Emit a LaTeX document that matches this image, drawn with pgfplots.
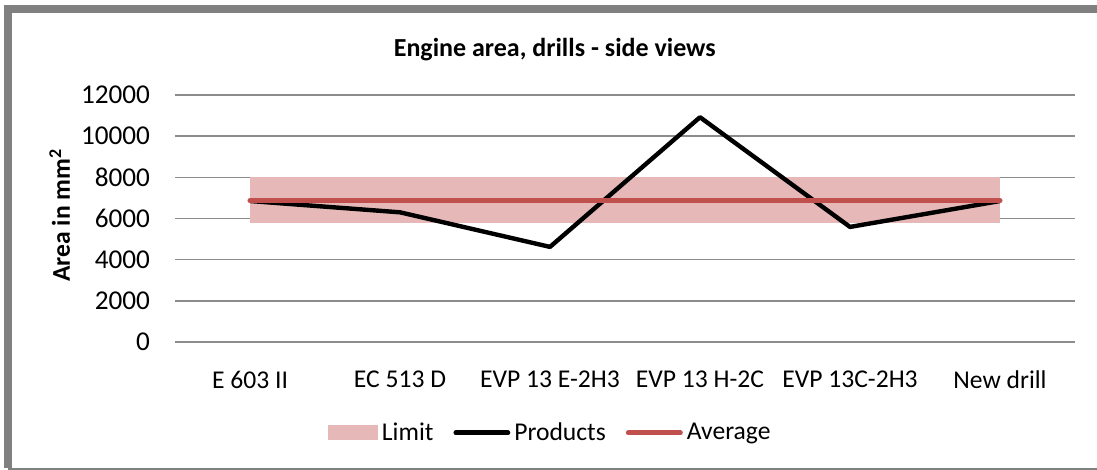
\documentclass[border=0pt]{standalone}
\usepackage{fontspec}
\setmainfont{Carlito}
\usepackage{pgfplots}
\pgfplotsset{compat=1.18}
\definecolor{gridgray}{HTML}{8C8C8C}
\definecolor{framegray}{HTML}{808080}
\definecolor{avgred}{HTML}{C0504D}
\definecolor{limitpink}{HTML}{E6B9B8}
\begin{document}
\begin{tikzpicture}
\useasboundingbox (-87.5pt,-64pt) rectangle (461pt,171pt);
\fill[white] (-87.5pt,-64pt) rectangle (461pt,171pt);
\draw[framegray, line width=4pt] (-83.5pt,-63pt) -- (-83.5pt,166.5pt) -- (475pt,166.5pt);
\draw[framegray, line width=1.2pt] (-83.5pt,-63.5pt) -- (475pt,-63.5pt);
\begin{axis}[
  at={(0,0)}, anchor=south west,
  scale only axis, width=450pt, height=123.5pt,
  xmin=-0.5, xmax=5.5, ymin=0, ymax=12000,
  xtick={0,...,5},
  xticklabels={E 603 II, EC 513 D, EVP 13 E-2H3, EVP 13 H-2C, EVP 13C-2H3, New drill},
  ytick={0,2000,...,12000},
  scaled y ticks=false,
  axis line style={draw=none},
  major tick length=0pt,
  ymajorgrids, grid style={gridgray, line width=0.8pt},
  tick label style={font=\fontsize{12.8}{14}\selectfont},
  xticklabel style={yshift=-11pt},
  yticklabel style={xshift=-9pt, font=\fontsize{13.6}{15}\selectfont},
  /pgf/number format/assume math mode=true,
  /pgf/number format/1000 sep={},
  title={Engine area, drills - side views},
  title style={font=\bfseries\fontsize{13}{15}\selectfont, at={(0.422,1.137)}, anchor=center},
  ylabel={Area in mm\textsuperscript{2}},
  ylabel style={font=\bfseries\fontsize{12.8}{14}\selectfont, at={(-0.128,0.514)}, anchor=center},
  legend style={at={(0.418,-0.368)}, anchor=center, draw=none, fill=none,
    legend columns=-1, font=\fontsize{12.8}{14}\selectfont,
    /tikz/every even column/.append style={column sep=8pt}},
]
\addplot[fill=limitpink, draw=none,
  legend image code/.code={\fill[limitpink] (0pt,-3.7pt) rectangle (25pt,3.7pt);}]
  coordinates {(0,5800) (5,5800) (5,8000) (0,8000)};
\addlegendentry{Limit}
\addplot[black, line width=2.2pt, line join=round,
  legend image code/.code={\draw[black, line width=2.4pt, line cap=round] (0pt,0pt) -- (26pt,0pt);}]
  coordinates {(0,6850) (1,6300) (2,4620) (3,10920) (4,5590) (5,6850)};
\addlegendentry{Products}
\addplot[avgred, line width=2.5pt, line cap=round,
  legend image code/.code={\draw[avgred, line width=2.5pt, line cap=round] (0pt,0pt) -- (26pt,0pt);}]
  coordinates {(0,6855) (5,6855)};
\addlegendentry{Average}
\end{axis}
\end{tikzpicture}
\end{document}
